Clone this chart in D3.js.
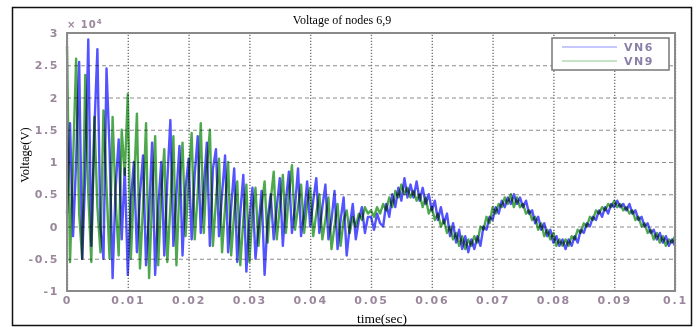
<!DOCTYPE html>
<html>
<head>
<meta charset="utf-8">
<script src="https://cdn.jsdelivr.net/npm/d3@7/dist/d3.min.js"></script>
<style>
	body { margin: 0; background: #fff; }
	svg { display: block; }
</style>
</head>
<body>
<svg id="volt" width="699" height="327"></svg>
<script>
// samples every 0.5 ms, values in units of 1e4 V
var step = 0.0005;

var vn6 = [
	0.2, 1.6, -0.15, 1.0, 2.55, -0.5, 0.8, 2.9, -0.3, 1.5,
	2.75, 0.0, -0.5, 2.45, 1.2, -0.8, 0.6, 1.35, -0.2, 0.9,
	-0.75, 0.4, 1.0, -0.4, 0.5, 1.1, -0.6, 0.2, 1.3, -0.75,
	0.3, 1.0, -0.45, 0.7, 1.65, -0.3, 0.5, 1.25, -0.45, 0.6,
	1.05, -0.2, 0.8, 1.4, -0.1, 0.6, 1.3, -0.3, 0.9, 1.2,
	-0.15, 0.5, 1.1, -0.4, 0.3, 0.9, -0.55, 0.2, 0.8, -0.7,
	0.1, 0.6, -0.5, 0.0, 0.55, -0.75, 0.1, 0.5, -0.2, 0.3,
	0.75, -0.3, 0.4, 0.85, -0.1, 0.3, 0.9, -0.15, 0.2, 0.7,
	0.0, 0.4, 0.75, -0.1, 0.3, 0.65, -0.2, 0.1, 0.55, -0.35,
	0.1, 0.45, -0.45, 0.0, 0.35, -0.2, 0.1, 0.3, -0.1, 0.15,
	0.15, -0.05, 0.2, 0.05,
	0.0, 0.35, 0.15, 0.5, 0.3, 0.6, 0.4, 0.75, 0.45, 0.65,
	0.45, 0.7, 0.4, 0.6, 0.35, 0.5, 0.25, 0.4, 0.1, 0.3,
	0.05, 0.2, -0.15, 0.05, -0.25, -0.05, -0.35, -0.15, -0.4, -0.2,
	-0.35, -0.15, -0.3, 0.0, -0.05, 0.15, 0.1, 0.3, 0.2, 0.4,
	0.3, 0.45, 0.35, 0.5, 0.35, 0.45, 0.3, 0.4, 0.2, 0.25,
	0.05, 0.15, -0.05, 0.05, -0.15, -0.05, -0.25, -0.15, -0.3, -0.2,
	-0.35, -0.2, -0.3, -0.15, -0.25, -0.05, -0.1, 0.05, 0.0, 0.15,
	0.1, 0.25, 0.15, 0.3, 0.2, 0.35, 0.3, 0.4, 0.3, 0.35,
	0.25, 0.35, 0.2, 0.25, 0.1, 0.15, 0.0, 0.05, -0.1, -0.05,
	-0.2, -0.1, -0.25, -0.15, -0.3, -0.2, -0.3
];

var vn9 = [
	2.8, -0.55, 1.0, 2.6, 0.2, -0.5, 2.35, 0.5, -0.55, 1.7,
	0.3, -0.4, 1.8, 0.6, -0.5, 1.7, 0.4, -0.45, 1.5, 0.8,
	2.05, -0.5, 0.6, 1.75, -0.65, 0.3, 1.6, -0.8, 0.4, 1.4,
	-0.6, 0.5, 1.2, -0.55, 0.3, 1.4, -0.6, 0.6, 1.3, -0.15,
	0.7, 1.45, -0.2, 0.5, 1.6, -0.1, 0.9, 1.5, -0.3, 0.4,
	1.05, -0.4, 0.3, 1.0, -0.45, 0.2, 0.7, -0.6, 0.1, 0.65,
	-0.55, 0.2, 0.6, -0.3, 0.3, 0.7, -0.25, 0.4, 0.85, -0.2,
	0.3, 0.8, -0.1, 0.5, 0.95, -0.05, 0.3, 0.65, -0.1, 0.35,
	0.6, -0.15, 0.2, 0.5, -0.2, 0.1, 0.45, -0.35, 0.0, 0.35,
	-0.3, 0.1, 0.25, -0.1, 0.15, 0.0, 0.2, 0.1, 0.3, 0.2,
	0.25, 0.15, 0.3, 0.2,
	0.35, 0.25, 0.45, 0.3, 0.55, 0.45, 0.65, 0.5, 0.6, 0.45,
	0.55, 0.4, 0.5, 0.3, 0.45, 0.2, 0.3, 0.1, 0.2, 0.0,
	0.1, -0.1, 0.0, -0.2, -0.1, -0.3, -0.15, -0.35, -0.2, -0.3,
	-0.15, -0.25, 0.0, -0.05, 0.15, 0.05, 0.3, 0.2, 0.35, 0.3,
	0.45, 0.35, 0.5, 0.3, 0.45, 0.3, 0.35, 0.2, 0.25, 0.1,
	0.15, -0.05, 0.05, -0.15, -0.05, -0.2, -0.1, -0.3, -0.2, -0.3,
	-0.2, -0.3, -0.15, -0.2, -0.05, -0.1, 0.05, 0.0, 0.15, 0.1,
	0.25, 0.2, 0.3, 0.25, 0.35, 0.3, 0.4, 0.3, 0.35, 0.25,
	0.3, 0.2, 0.25, 0.1, 0.15, 0.0, 0.05, -0.1, -0.05, -0.2,
	-0.1, -0.25, -0.15, -0.3, -0.2, -0.25, -0.15
];

var xTicks = [0, 0.01, 0.02, 0.03, 0.04, 0.05, 0.06, 0.07, 0.08, 0.09, 0.1];
var xTickLabels = ["0", "0.01", "0.02", "0.03", "0.04", "0.05", "0.06", "0.07", "0.08", "0.09", "0.1"];
var yTicks = [-1, -0.5, 0, 0.5, 1, 1.5, 2, 2.5, 3];
var yTickLabels = ["-1", "-0.5", "0", "0.5", "1", "1.5", "2", "2.5", "3"];
var seriesNames = ["VN6", "VN9"];
var seriesColors = ["#3434ff", "#2f9a2f"];

(function () {
	var svg = d3.select("#volt");

	// outer frame
	svg.append("rect")
		.attr("x", 12.5).attr("y", 7.5)
		.attr("width", 679).attr("height", 318)
		.attr("fill", "none")
		.attr("stroke", "#111")
		.attr("stroke-width", 1.5);

	var margin = {top: 33, right: 24, bottom: 36, left: 67},
		width = 699 - margin.left - margin.right,
		height = 327 - margin.top - margin.bottom,
		g = svg.append("g").attr("transform", "translate(" + margin.left + "," + margin.top + ")");

	var x = d3.scaleLinear().domain([0, 0.1]).range([0, width]);
	var y = d3.scaleLinear().domain([-1, 3]).range([height, 0]);

	// grid: dashed horizontal, dotted vertical
	g.append("g")
		.attr("class", "grid-y")
		.call(d3.axisLeft(y).tickValues(yTicks).tickSize(-width).tickFormat(""))
		.call(function (s) {
			s.select(".domain").remove();
			s.selectAll("line").attr("stroke", "#8c8c8c").attr("stroke-dasharray", "4,3").attr("stroke-width", 1.1);
		});

	g.append("g")
		.attr("class", "grid-x")
		.attr("transform", "translate(0," + height + ")")
		.call(d3.axisBottom(x).tickValues(xTicks).tickSize(-height).tickFormat(""))
		.call(function (s) {
			s.select(".domain").remove();
			s.selectAll("line").attr("stroke", "#777").attr("stroke-dasharray", "1.2,1.8").attr("stroke-width", 1.4);
		});

	var line = d3.line()
		.x(function (d, i) { return x(i * step); })
		.y(function (d) { return y(d); });

	[vn6, vn9].forEach(function (s, k) {
		g.append("path")
			.datum(s)
			.attr("fill", "none")
			.attr("stroke", seriesColors[k])
			.attr("stroke-width", 2.4)
			.attr("stroke-linejoin", "round")
			.attr("opacity", 0.85)
			.style("mix-blend-mode", "multiply")
			.attr("d", line);
	});

	// axes box
	g.append("rect")
		.attr("width", width).attr("height", height)
		.attr("fill", "none")
		.attr("stroke", "#8a8a8a")
		.attr("stroke-width", 2);

	var tickColor = "#9a879c";

	g.append("g")
		.attr("transform", "translate(0," + height + ")")
		.call(d3.axisBottom(x).tickValues(xTicks).tickSize(0).tickPadding(5)
			.tickFormat(function (d, i) { return xTickLabels[i]; }))
		.call(function (s) {
			s.select(".domain").remove();
			s.selectAll("text")
				.attr("fill", tickColor)
				.style("font", "bold 11px 'DejaVu Sans'")
				.style("letter-spacing", "1.8px");
		});

	g.append("g")
		.call(d3.axisLeft(y).tickValues(yTicks).tickSize(0).tickPadding(8)
			.tickFormat(function (d, i) { return yTickLabels[i]; }))
		.call(function (s) {
			s.select(".domain").remove();
			s.selectAll("text")
				.attr("fill", tickColor)
				.style("font", "bold 11px 'DejaVu Sans'")
				.style("letter-spacing", "1.6px");
		});

	// exponent label
	var ex = g.append("text")
		.attr("x", 0).attr("y", -5)
		.attr("fill", tickColor)
		.style("font", "bold 10px 'DejaVu Sans'")
		.style("letter-spacing", "1px");
	ex.append("tspan").text("\u00d7 10");
	ex.append("tspan").attr("dy", -4).style("font-size", "7px").text("4");

	// titles
	svg.append("text")
		.attr("x", 342).attr("y", 24)
		.attr("text-anchor", "middle")
		.style("font", "12px 'Liberation Serif'")
		.text("Voltage of nodes 6,9");

	svg.append("text")
		.attr("x", 382).attr("y", 323)
		.attr("text-anchor", "middle")
		.style("font", "13.5px 'Liberation Serif'")
		.text("time(sec)");

	svg.append("text")
		.attr("transform", "translate(29,155) rotate(-90)")
		.attr("text-anchor", "middle")
		.style("font", "12.5px 'Liberation Serif'")
		.text("Voltage(V)");

	// legend
	var lg = svg.append("g").attr("transform", "translate(552,38)");
	lg.append("rect")
		.attr("width", 117).attr("height", 32)
		.attr("fill", "#fff")
		.attr("stroke", "#777")
		.attr("stroke-width", 1.5);
	seriesNames.forEach(function (n, i) {
		lg.append("line")
			.attr("x1", 10).attr("x2", 65)
			.attr("y1", 9 + i * 14).attr("y2", 9 + i * 14)
			.attr("stroke", seriesColors[i])
			.attr("stroke-width", 1.2)
			.attr("opacity", 0.55);
		lg.append("text")
			.attr("x", 72).attr("y", 13 + i * 14)
			.attr("fill", "#8a7fa8")
			.style("font", "bold 11px 'DejaVu Sans'")
			.style("letter-spacing", "1.5px")
			.text(n);
	});
}) ();
</script>
</body>
</html>
